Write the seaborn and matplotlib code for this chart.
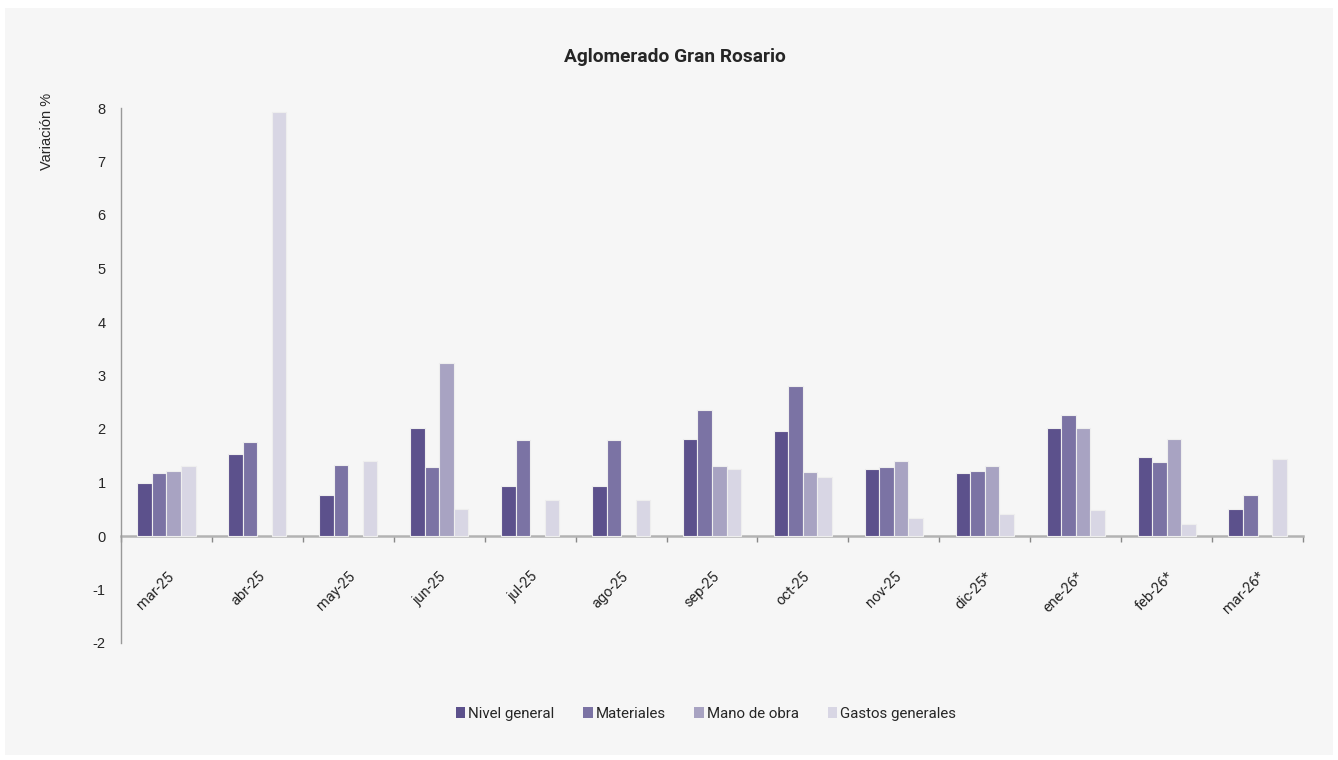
import matplotlib
matplotlib.use('Agg')
import matplotlib.pyplot as plt
import matplotlib.patches as mpatches
import seaborn as sns
import pandas as pd
import numpy as np

meses = ['mar-25', 'abr-25', 'may-25', 'jun-25', 'jul-25', 'ago-25', 'sep-25',
         'oct-25', 'nov-25', 'dic-25*', 'ene-26*', 'feb-26*', 'mar-26*']
nivel_general = [1.00, 1.54, 0.77, 2.02, 0.94, 0.94, 1.81, 1.97, 1.25, 1.18, 2.01, 1.47, 0.51]
materiales = [1.18, 1.75, 1.33, 1.29, 1.80, 1.80, 2.35, 2.80, 1.29, 1.22, 2.27, 1.39, 0.76]
mano_de_obra = [1.22, np.nan, np.nan, 3.23, np.nan, np.nan, 1.31, 1.19, 1.41, 1.31, 2.01, 1.81, np.nan]
gastos_generales = [1.31, 7.93, 1.41, 0.50, 0.67, 0.67, 1.25, 1.10, 0.33, 0.42, 0.48, 0.22, 1.43]

series = ['Nivel general', 'Materiales', 'Mano de obra', 'Gastos generales']
colores = ['#5c518c', '#7b73a4', '#a8a3c2', '#d8d6e4']

df = pd.DataFrame({
    'mes': meses * 4,
    'serie': sum([[s] * len(meses) for s in series], []),
    'valor': nivel_general + materiales + mano_de_obra + gastos_generales,
})

sns.set_style('white')
plt.rcParams['font.family'] = ['Roboto', 'DejaVu Sans']

fig = plt.figure(figsize=(13.38, 7.6), dpi=100, facecolor='white')
# panel gris de fondo
fig.patches.append(mpatches.Rectangle((5 / 1338, 1 - 755 / 760), 1328 / 1338, 747 / 760,
                                      transform=fig.transFigure, facecolor='#f6f6f6',
                                      edgecolor='none', zorder=-10))

ax = fig.add_axes([121 / 1338, 1 - 643 / 760, 1182 / 1338, 535 / 760])
ax.set_facecolor('none')

sns.barplot(data=df, x='mes', y='valor', hue='serie', order=meses, hue_order=series,
            palette=colores, width=0.64, gap=0, edgecolor='#eeeeee', linewidth=0.8,
            saturation=1, ax=ax, legend=True)

ax.set_ylim(-2, 8)
ax.set_yticks(range(-2, 9))
ax.set_yticklabels([str(v) for v in range(-2, 9)], family='Liberation Sans', fontsize=10.5)
ax.tick_params(axis='y', length=5, color='#999999', width=1, pad=6)
ax.set_xlim(-0.5, len(meses) - 0.5)
ax.set_xticks([])
ax.set_xlabel('')
ax.set_ylabel('')
for s in ['top', 'right', 'bottom']:
    ax.spines[s].set_visible(False)
ax.spines['left'].set_color('#999999')
ax.spines['left'].set_linewidth(1)

# eje de categorias cruzando en 0
sec = ax.secondary_xaxis(0.2)
sec.spines['bottom'].set_color('#b3b3b3')
sec.spines['bottom'].set_linewidth(1.8)
sec.set_xticks(range(len(meses)))
sec.set_xticklabels(meses, fontsize=10.5)
sec.set_xticks(np.arange(-0.5, len(meses)), minor=True)
sec.tick_params(axis='x', which='major', length=0, pad=24)
sec.tick_params(axis='x', which='minor', length=4, color='#888888', width=1)
plt.setp(sec.get_xticklabels(), rotation=45, ha='right', rotation_mode='anchor')

ax.get_legend().remove()
handles = [mpatches.Patch(facecolor=c, edgecolor='none') for c in colores]
fig.legend(handles, series, loc='center', bbox_to_anchor=(706 / 1338, 1 - 714 / 760),
           ncol=4, frameon=False, fontsize=10.8, handlelength=0.65, handleheight=0.75,
           handletextpad=0.2, columnspacing=1.9)

fig.text(675 / 1338, 1 - 57 / 760, 'Aglomerado Gran Rosario', ha='center', va='center',
         fontsize=13.8, fontweight='bold')
fig.text(47 / 1338, 1 - 131 / 760, 'Variación %', rotation=90, ha='center', va='center',
         family='Liberation Sans', fontsize=10.5)

fig.savefig('out.png', dpi=100, facecolor='white')
